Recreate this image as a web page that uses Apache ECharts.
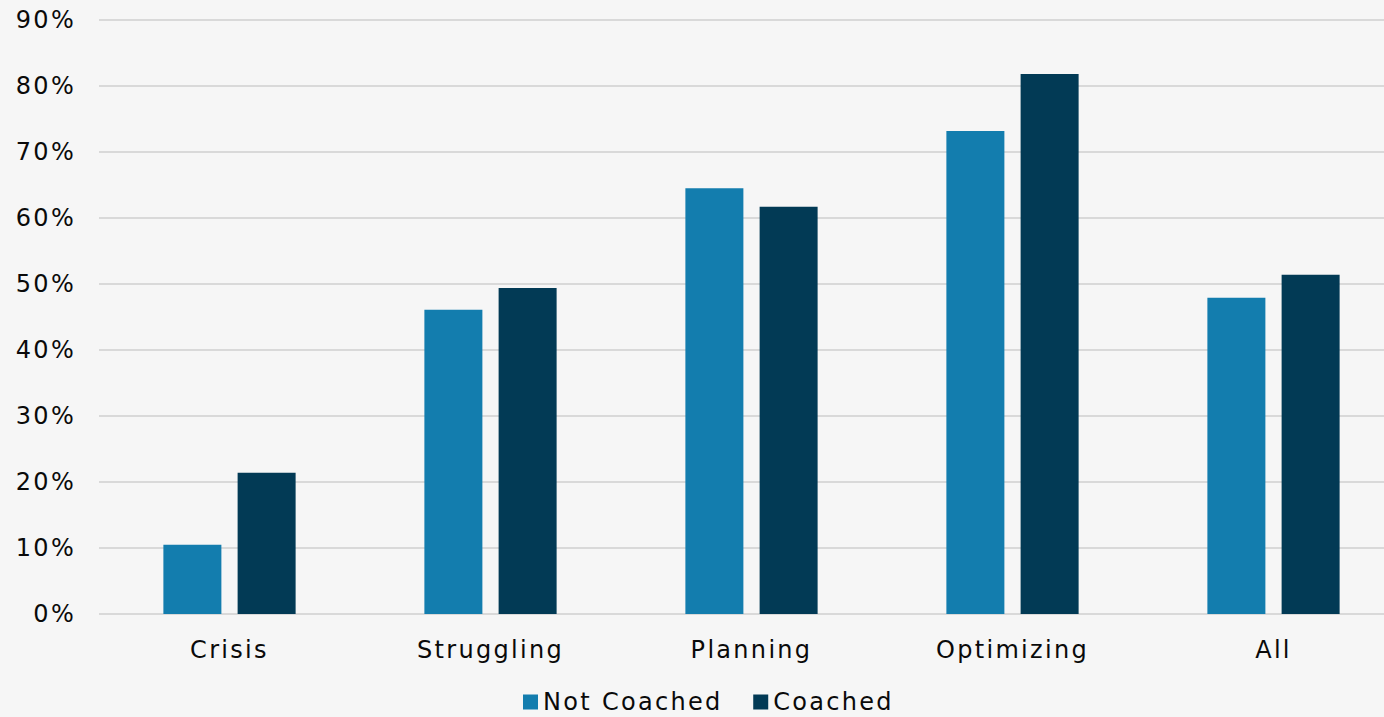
<!DOCTYPE html>
<html>
<head>
<meta charset="utf-8">
<script src="https://cdn.jsdelivr.net/npm/echarts@6/dist/echarts.min.js"></script>
<style>
  html, body { margin: 0; padding: 0; background: #f6f6f6; overflow: hidden; }
  #chart { width: 1404px; height: 717px; }
  #chart text { letter-spacing: 2.3px; }
</style>
</head>
<body>
<div id="chart"></div>
<script>
const categories = ["Crisis", "Struggling", "Planning", "Optimizing", "All"];
const notCoached = [10.5, 46.1, 64.5, 73.2, 47.9];
const coached = [21.4, 49.4, 61.7, 81.8, 51.4];

const font = "DejaVu Sans";

const chart = echarts.init(document.getElementById("chart"), null, { renderer: "svg" });
chart.setOption({
    backgroundColor: "#f6f6f6",
    animation: false,
    grid: { left: 99, right: 0, top: 20, bottom: 103 },
    legend: {
        top: 685,
        left: 518,
        itemWidth: 15,
        itemHeight: 15,
        itemGap: 56,
        icon: "rect",
        textStyle: { fontFamily: font, fontSize: 24, lineHeight: 24, color: "#0a0a0a" },
        data: ["Not Coached", "Coached"],
    },
    xAxis: {
        type: "category",
        data: categories,
        axisLine: { show: false },
        axisTick: { show: false },
        axisLabel: { fontFamily: font, fontSize: 24, color: "#0a0a0a", margin: 24 },
    },
    yAxis: {
        type: "value",
        min: 0,
        max: 90,
        interval: 10,
        axisLabel: {
            formatter: "{value}%",
            fontFamily: font,
            fontSize: 24,
            color: "#0a0a0a",
            margin: 23,
        },
        splitLine: { lineStyle: { color: "#d9d9d9", width: 2 } },
    },
    series: [
        {
            name: "Not Coached",
            type: "bar",
            data: notCoached,
            barWidth: 58,
            barGap: "28%",
            itemStyle: { color: "#137dae" },
        },
        {
            name: "Coached",
            type: "bar",
            data: coached,
            barWidth: 58,
            itemStyle: { color: "#023a55" },
        },
    ],
});
</script>
</body>
</html>
